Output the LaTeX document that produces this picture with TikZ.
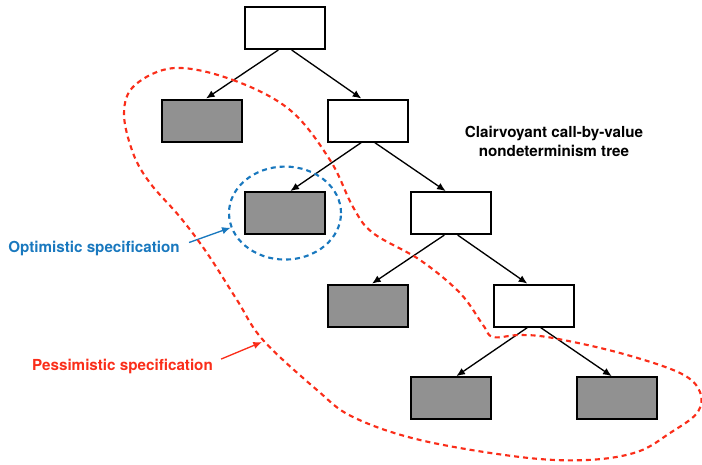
\documentclass[tikz,border=0pt]{standalone}
\usepackage{fontspec}
\setmainfont{TeX Gyre Heros}
\usetikzlibrary{positioning, shapes.geometric, arrows.meta}
\definecolor{pessred}{RGB}{250,45,25}
\definecolor{optblue}{RGB}{25,120,190}
\definecolor{leafgray}{RGB}{145,145,145}

\begin{document}
\begin{tikzpicture}[x=0.75pt, y=-0.75pt]
    \tikzstyle{every node}=[font=\fontsize{11.4}{14.25}\selectfont\bfseries, align=center]
    \tikzset{
        n/.style={draw, line width=1.5pt, fill=white, minimum width=60pt, minimum height=31.5pt},
        n2/.style={n, fill=leafgray},
        e/.style={-{Latex[length=6.5pt, width=5.5pt]}, line width=1pt},
        spec/.style={line width=1.6pt, dash pattern=on 3.75pt off 3pt}
        }
    \useasboundingbox (0,0) rectangle (702,464);

    %root
    \node (root) [n] at (285,28) {};

    %level 1
    \node (n1) [n2, below=36.4pt of root, xshift=-62.25pt] {};
    \node (n2) [n, below=36.4pt of root, xshift=62.25pt] {};

    %level 2
    \node (n3) [n2, below=36.4pt of n2, xshift=-62.25pt] {};
    \node (n4) [n, below=36.4pt of n2, xshift=62.25pt] {};

    %level 3
    \node (n5) [n2, below=36.4pt of n4, xshift=-62.25pt] {};
    \node (n6) [n, below=36.4pt of n4, xshift=62.25pt] {};

    %level 4
    \node (n7) [n2, below=36.4pt of n6, xshift=-62.25pt] {};
    \node (n8) [n2, below=36.4pt of n6, xshift=62.25pt] {};

    %title
    \node (title) at (554,141) {Clairvoyant call-by-value\\nondeterminism tree};

    %specifications
    \node (optlabel) [text=optblue] at (94,248.5) {Optimistic specification};
    \node (pesslabel) [text=pessred] at (122.5,366) {Pessimistic specification};

    \draw[e] ([xshift=-5pt]root.south) -- ([xshift=3pt]n1.north);
    \draw[e] ([xshift=5pt]root.south) -- ([xshift=-5pt]n2.north);
    \draw[e] ([xshift=-5pt]n2.south) -- ([xshift=4pt]n3.north);
    \draw[e] ([xshift=5pt]n2.south) -- ([xshift=-4pt]n4.north);
    \draw[e] ([xshift=-5pt]n4.south) -- ([xshift=3pt]n5.north);
    \draw[e] ([xshift=5pt]n4.south) -- ([xshift=-5pt]n6.north);
    \draw[e] ([xshift=-5pt]n6.south) -- ([xshift=4pt]n7.north);
    \draw[e] ([xshift=5pt]n6.south) -- ([xshift=-4pt]n8.north);

    % optimistic
    \node (optim) [ellipse, draw=optblue, spec, minimum width=84pt, minimum height=69.75pt] at (n3) {};
    \draw[e, optblue] ([shift={(3.5pt,4.5pt)}]optlabel.east) -- (optim.195);

    % pessimistic
    \draw[spec, pessred] plot[smooth cycle, tension=0.6] coordinates {
        (175,68) (233,80) (290,110) (330,160) (353,207) (373,233) (420,260)
        (460,293) (483,325) (493,337) (520,335) (553,338) (620,353) (680,373)
        (700,392) (697,413) (670,433) (637,452) (587,460) (520,457) (420,440)
        (353,417) (317,390) (263,340) (237,300) (207,253) (180,217) (150,183)
        (133,153) (124,113) (135,85)};
    \coordinate (pesstip) at (262,342);
    \draw[e, pessred] ([shift={(2.7pt,5.2pt)}]pesslabel.east) -- (pesstip);
\end{tikzpicture}
\end{document}
